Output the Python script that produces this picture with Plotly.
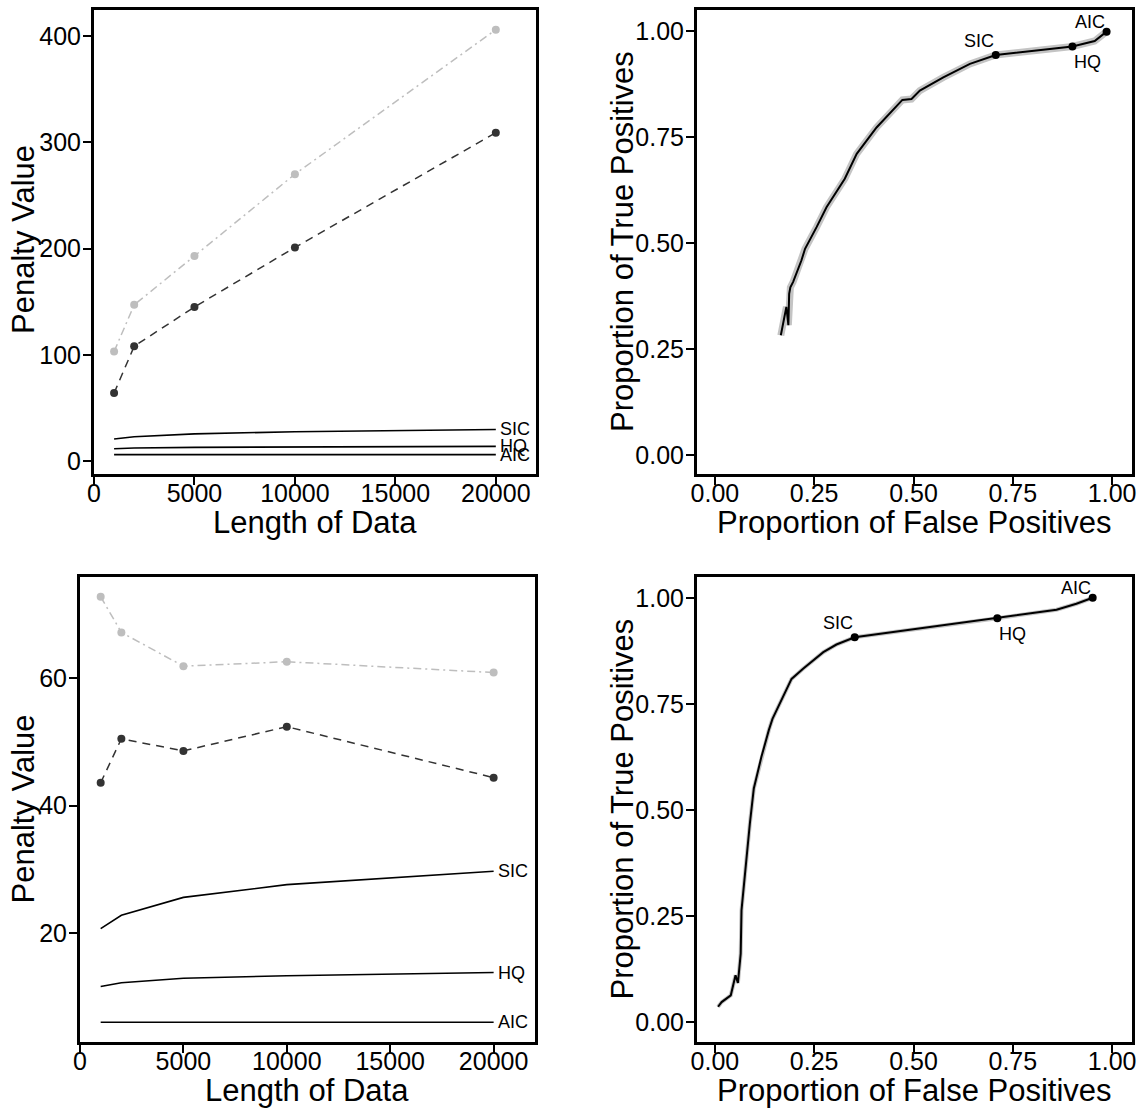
import plotly.graph_objects as go

# ---- data ---------------------------------------------------------------
data_length = [1000, 2000, 5000, 10000, 20000]

# information-criterion penalties (same in both left panels)
pen_sic = [20.7, 22.8, 25.6, 27.6, 29.7]
pen_hq = [11.6, 12.2, 12.9, 13.3, 13.8]
pen_aic = [6, 6, 6, 6, 6]

# estimated penalties, top-left panel
top_light = [103, 147, 193, 270, 406]
top_dark = [64, 108, 145, 201, 309]

# estimated penalties, bottom-left panel
bot_light = [72.8, 67.2, 61.9, 62.6, 60.9]
bot_dark = [43.6, 50.5, 48.6, 52.4, 44.4]

# ROC curve, top-right panel
roc_top_fp = [0.166, 0.180, 0.185, 0.187, 0.190, 0.197, 0.218, 0.227, 0.256, 0.281,
              0.327, 0.357, 0.407, 0.440, 0.472, 0.495, 0.516, 0.575, 0.642, 0.707,
              0.900, 0.956, 0.986]
roc_top_tp = [0.282, 0.349, 0.306, 0.380, 0.395, 0.408, 0.459, 0.486, 0.537, 0.584,
              0.651, 0.710, 0.772, 0.804, 0.837, 0.839, 0.859, 0.890, 0.922, 0.943,
              0.963, 0.976, 0.998]

# ROC curve, bottom-right panel
roc_bot_fp = [0.008, 0.017, 0.040, 0.052, 0.058, 0.065, 0.067, 0.076, 0.088, 0.098,
              0.117, 0.136, 0.145, 0.193, 0.222, 0.273, 0.306, 0.352, 0.711, 0.860,
              0.910, 0.951]
roc_bot_tp = [0.037, 0.048, 0.064, 0.111, 0.093, 0.162, 0.264, 0.358, 0.468, 0.551,
              0.625, 0.689, 0.715, 0.809, 0.833, 0.872, 0.890, 0.907, 0.952, 0.972,
              0.986, 1.000]

criteria = ["SIC", "HQ", "AIC"]
crit_top_fp = [0.707, 0.900, 0.986]
crit_top_tp = [0.943, 0.963, 0.998]
crit_bot_fp = [0.352, 0.711, 0.951]
crit_bot_tp = [0.907, 0.952, 1.000]

x_ticks_len = [0, 5000, 10000, 15000, 20000]
prop_ticks = [0, 0.25, 0.5, 0.75, 1.0]

# ---- layout helpers -----------------------------------------------------
W, H = 1141, 1109
FONT = "Liberation Sans, Arial, Helvetica, sans-serif"
LIGHT = "#bebebe"
DARK = "#333333"


def fx(p):
    return p / W


def fy(p):
    return 1 - p / H


fig = go.Figure()


def penalty_panel(ax, light, dark):
    xa = "x" if ax == 1 else f"x{ax}"
    ya = "y" if ax == 1 else f"y{ax}"
    fig.add_trace(go.Scatter(x=data_length, y=light, mode="lines+markers", xaxis=xa, yaxis=ya,
                             line=dict(color=LIGHT, width=1.5, dash="8px,4px,2px,4px"),
                             marker=dict(color=LIGHT, size=8)))
    fig.add_trace(go.Scatter(x=data_length, y=dark, mode="lines+markers", xaxis=xa, yaxis=ya,
                             line=dict(color=DARK, width=1.5, dash="8px,6px"),
                             marker=dict(color=DARK, size=8)))
    for name, vals in zip(criteria, [pen_sic, pen_hq, pen_aic]):
        fig.add_trace(go.Scatter(x=data_length, y=vals, mode="lines", xaxis=xa, yaxis=ya,
                                 line=dict(color="black", width=1.6)))
        fig.add_annotation(x=data_length[-1], y=vals[-1], xref=xa, yref=ya, text=name,
                           showarrow=False, xanchor="left", yanchor="middle", xshift=2,
                           font=dict(family=FONT, size=18, color="black"))


def roc_panel(ax, fp, tp, cfp, ctp, band_w):
    xa = f"x{ax}"
    ya = f"y{ax}"
    fig.add_trace(go.Scatter(x=fp, y=tp, mode="lines", xaxis=xa, yaxis=ya,
                             line=dict(color="#c4c4c4", width=band_w)))
    fig.add_trace(go.Scatter(x=fp, y=tp, mode="lines", xaxis=xa, yaxis=ya,
                             line=dict(color="black", width=2)))
    fig.add_trace(go.Scatter(x=cfp, y=ctp, mode="markers", xaxis=xa, yaxis=ya,
                             marker=dict(color="black", size=8)))
    # SIC up-left, HQ down-right, AIC up-left
    placement = {"SIC": ("right", "bottom", 0, 2),
                 "HQ": ("left", "top", 0, -4),
                 "AIC": ("right", "bottom", 0, -2)}
    for name, x, y in zip(criteria, cfp, ctp):
        xan, yan, xs, ys = placement[name]
        fig.add_annotation(x=x, y=y, xref=xa, yref=ya, text=name, showarrow=False,
                           xanchor=xan, yanchor=yan, xshift=xs, yshift=ys,
                           font=dict(family=FONT, size=18, color="black"))


penalty_panel(1, top_light, top_dark)
roc_panel(2, roc_top_fp, roc_top_tp, crit_top_fp, crit_top_tp, 7)
penalty_panel(3, bot_light, bot_dark)
roc_panel(4, roc_bot_fp, roc_bot_tp, crit_bot_fp, crit_bot_tp, 4)

axis_common = dict(showline=True, mirror=True, linewidth=3, linecolor="black",
                   ticks="outside", ticklen=8, tickwidth=1.5, tickcolor="black",
                   showgrid=False, zeroline=False, automargin=False,
                   tickfont=dict(family=FONT, size=25, color="black"))

panels = {
    1: dict(x=(94, 536), y=(10, 474), xr=[0, 22000], yr=[-12.2, 424.5],
            xt=x_ticks_len, yt=[0, 100, 200, 300, 400], xf="d", yf="d"),
    2: dict(x=(697, 1132), y=(10, 474), xr=[-0.045, 1.05], yr=[-0.045, 1.049],
            xt=prop_ticks, yt=prop_ticks, xf=".2f", yf=".2f"),
    3: dict(x=(80, 535), y=(577, 1042), xr=[0, 22000], yr=[2.9, 75.9],
            xt=x_ticks_len, yt=[20, 40, 60], xf="d", yf="d"),
    4: dict(x=(697, 1132), y=(577, 1042), xr=[-0.045, 1.05], yr=[-0.046, 1.049],
            xt=prop_ticks, yt=prop_ticks, xf=".2f", yf=".2f"),
}

layout_axes = {}
for k, p in panels.items():
    sx = "" if k == 1 else str(k)
    layout_axes[f"xaxis{sx}"] = dict(axis_common, domain=[fx(p["x"][0]), fx(p["x"][1])],
                                     range=p["xr"], tickvals=p["xt"], tickformat=p["xf"],
                                     anchor=f"y{sx}", ticklabelstandoff=-13)
    layout_axes[f"yaxis{sx}"] = dict(axis_common, domain=[fy(p["y"][1]), fy(p["y"][0])],
                                     range=p["yr"], tickvals=p["yt"], tickformat=p["yf"],
                                     anchor=f"x{sx}", ticklabelstandoff=-3)

fig.update_layout(width=W, height=H, margin=dict(l=0, r=0, t=0, b=0),
                  plot_bgcolor="white", paper_bgcolor="white", showlegend=False,
                  **layout_axes)

# axis titles
title_font = dict(family=FONT, size=31, color="black")
x_titles = [("Length of Data", 315, 522), ("Proportion of False Positives", 914.5, 522),
            ("Length of Data", 307.5, 1090), ("Proportion of False Positives", 914.5, 1090)]
for text, px, py in x_titles:
    fig.add_annotation(x=fx(px), y=fy(py), xref="paper", yref="paper", text=text,
                       showarrow=False, xanchor="center", yanchor="middle", font=title_font)
y_titles = [("Penalty Value", 23, 240), ("Proportion of True Positives", 622, 242),
            ("Penalty Value", 23, 809.5), ("Proportion of True Positives", 622, 809.5)]
for text, px, py in y_titles:
    fig.add_annotation(x=fx(px), y=fy(py), xref="paper", yref="paper", text=text,
                       showarrow=False, xanchor="center", yanchor="middle",
                       textangle=-90, font=title_font)

fig.write_html("out.html")
